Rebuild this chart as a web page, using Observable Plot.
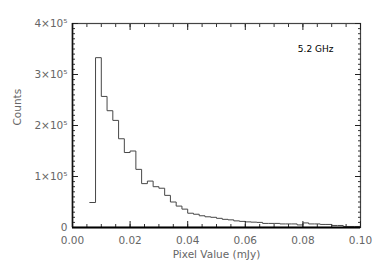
<!DOCTYPE html>
<html><head><meta charset="utf-8">
<script src="https://cdn.jsdelivr.net/npm/d3@7"></script>
<script src="https://cdn.jsdelivr.net/npm/@observablehq/plot@0.6"></script>
<style>body{margin:0;background:#fff}svg{display:block}</style>
</head><body><div id="chart"></div>
<script>
// histogram bins (left edges, mJy) and counts (thousands)
const binStart = [0.006,0.008,0.010,0.012,0.014,0.016,0.018,0.020,0.022,0.024,0.026,0.028,0.030,0.032,0.034,0.036,0.038,0.040,0.042,0.044,0.046,0.048,0.050,0.052,0.054,0.056,0.058,0.060,0.062,0.064,0.066,0.068,0.070,0.072,0.074,0.076,0.078,0.080,0.082,0.084,0.086,0.088,0.090,0.092,0.094,0.096,0.098];
const countsK  = [49,333,257,229,210,174,147,150,114,86,91,80,77,63,50,42,36,28,26,23,21,20,18,16,15,13,12,11,10.5,10,8,8,8,7,7,7,5,9,7,7,6,6,4,4,2,2,2];
const binEnd = 0.100;

const xMajor = [0,0.02,0.04,0.06,0.08,0.10];
const xMajorLabels = ["0.00","0.02","0.04","0.06","0.08","0.10"];
const yMajor = [0,100000,200000,300000,400000];
const yMajorLabels = ["0","1×10⁵","2×10⁵","3×10⁵","4×10⁵"];
const xMinor = d3.range(0, 0.1001, 0.005);
const yMinor = d3.range(0, 400001, 10000);

const title = "5.2 GHz";
const xTitle = "Pixel Value (mJy)";
const yTitle = "Counts";

const pts = binStart.map((x, i) => ({x, y: countsK[i] * 1000}));
pts.push({x: binEnd, y: countsK[countsK.length - 1] * 1000});

const font = "DejaVu Sans, sans-serif";
const gray = "#666";

const chart = Plot.plot({
  width: 382, height: 273,
  marginLeft: 72, marginRight: 22, marginTop: 23, marginBottom: 46,
  style: {fontFamily: font, background: "#fff"},
  x: {domain: [0, 0.1], label: null},
  y: {domain: [0, 400000], label: null},
  marks: [
    Plot.line(pts, {x: "x", y: "y", curve: "step-after", stroke: "#474747", strokeWidth: 1}),
    Plot.frame({stroke: "#444", strokeWidth: 1.2}),
    // minor ticks
    Plot.axisX(xMinor, {anchor: "bottom", tickSize: -3, tickFormat: () => "", label: null, stroke: "#333"}),
    Plot.axisX(xMinor, {anchor: "top", tickSize: -3, tickFormat: () => "", label: null, stroke: "#333"}),
    Plot.axisY(yMinor, {anchor: "left", tickSize: -3, tickFormat: () => "", label: null, stroke: "#333"}),
    Plot.axisY(yMinor, {anchor: "right", tickSize: -3, tickFormat: () => "", label: null, stroke: "#333"}),
    // major ticks
    Plot.axisX(xMajor, {anchor: "bottom", tickSize: -6, tickFormat: () => "", label: null, stroke: "#222"}),
    Plot.axisX(xMajor, {anchor: "top", tickSize: -6, tickFormat: () => "", label: null, stroke: "#222"}),
    Plot.axisY(yMajor, {anchor: "left", tickSize: -6, tickFormat: () => "", label: null, stroke: "#222"}),
    Plot.axisY(yMajor, {anchor: "right", tickSize: -6, tickFormat: () => "", label: null, stroke: "#222"}),
    // labels
    Plot.axisX(xMajor, {anchor: "bottom", tickSize: 0, tickPadding: 9, label: null,
      tickFormat: d => xMajorLabels[xMajor.indexOf(d)], fill: gray, fontSize: 10.5, letterSpacing: 0.6}),
    Plot.axisY(yMajor, {anchor: "left", tickSize: 0, tickPadding: 5, label: null,
      tickFormat: d => yMajorLabels[yMajor.indexOf(d)], fill: gray, fontSize: 10.5, letterSpacing: 0.4}),
    Plot.ruleY([0], {stroke: "#000", strokeWidth: 2}),
    Plot.ruleX([0], {stroke: "#111", strokeWidth: 1.6}),
    Plot.text([xTitle], {frameAnchor: "bottom", dy: 30, text: d => d, fill: gray, fontSize: 10.5, letterSpacing: 0.4}),
    Plot.text([yTitle], {frameAnchor: "left", dx: -55, rotate: -90, text: d => d, fill: gray, fontSize: 10.5, letterSpacing: 0.4}),
    Plot.text([title], {frameAnchor: "top-right", dx: -27, dy: 22, textAnchor: "end", text: d => d, fill: "#000", fontSize: 9})
  ]
});
document.getElementById("chart").appendChild(chart);
</script>
</body></html>
